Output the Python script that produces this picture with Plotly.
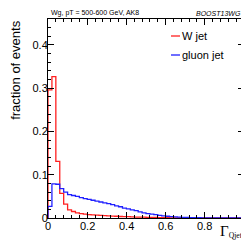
import numpy as np
import plotly.graph_objects as go

bin_edges = [round(0.02 * i, 2) for i in range(51)]

w_jet = [0.296, 0.327, 0.131, 0.057, 0.032, 0.019, 0.015, 0.012, 0.010, 0.009,
         0.008, 0.007, 0.0065, 0.006, 0.0055, 0.005, 0.0045, 0.004, 0.0035, 0.003,
         0.003, 0.0025, 0.0022, 0.002, 0.0018, 0.0015, 0.0013, 0.0011, 0.001, 0.0008,
         0.0007, 0.0005, 0.0004, 0.0003, 0.0002, 0.0001, 0, 0, 0, 0,
         0, 0, 0, 0, 0, 0, 0, 0, 0, 0]

gluon_jet = [0.027, 0.079, 0.078, 0.068, 0.060, 0.054, 0.052, 0.050, 0.047, 0.045,
             0.043, 0.041, 0.039, 0.037, 0.035, 0.033, 0.031, 0.028, 0.026, 0.023,
             0.021, 0.019, 0.017, 0.014, 0.012, 0.010, 0.009, 0.008, 0.006, 0.005,
             0.004, 0.003, 0.0025, 0.002, 0.0015, 0.0012, 0.001, 0.0008, 0.0006, 0.0005,
             0.0004, 0.0003, 0.0002, 0.0002, 0.0001, 0, 0, 0, 0, 0]

series = [("W jet", w_jet, "#ff2020"), ("gluon jet", gluon_jet, "#2020ff")]

x_ticks = [0, 0.2, 0.4, 0.6, 0.8, 1]
x_ticklabels = ["0", "0.2", "0.4", "0.6", "0.8", "1"]
y_ticks = [0, 0.1, 0.2, 0.3, 0.4]
y_ticklabels = ["0", "0.1", "0.2", "0.3", "0.4"]

FONT = "Liberation Sans, Arial, Helvetica, sans-serif"

fig = go.Figure()
for name, vals, col in series:
    xs = [bin_edges[0]] + list(bin_edges)
    ys = [0] + list(vals) + [vals[-1]]
    fig.add_trace(go.Scatter(x=xs, y=ys, mode="lines", line=dict(shape="hv", color=col, width=1.3),
                             name=name, showlegend=False, hoverinfo="skip"))

axis_common = dict(
    showline=True, linecolor="black", linewidth=1, mirror="ticks",
    ticks="inside", ticklen=6, tickwidth=1, tickcolor="black",
    showgrid=False, zeroline=False,
    tickfont=dict(family=FONT, size=11, color="black"),
)

# x tick labels are placed through the x scale as annotations (closer to the axis, ROOT style)
fig.update_xaxes(range=[0, 1], tickvals=x_ticks, showticklabels=False,
                 minor=dict(ticks="inside", ticklen=3, dtick=0.04, tick0=0, tickcolor="black", showgrid=False),
                 **axis_common)
fig.update_yaxes(range=[0, 0.46], tickvals=y_ticks, ticktext=y_ticklabels, ticklabelstandoff=-3,
                 minor=dict(ticks="inside", ticklen=3, dtick=0.02, tick0=0, tickcolor="black", showgrid=False),
                 **axis_common)

annotations = [
    dict(text=lab, xref="x", yref="paper", x=v, y=0.0, xanchor="center", yanchor="top",
         showarrow=False, font=dict(family=FONT, size=11, color="black"))
    for v, lab in zip(x_ticks, x_ticklabels)
]
annotations += [
    dict(text="fraction of events", textangle=-90, xref="paper", yref="paper",
         x=-0.215, y=1.0, xanchor="left", yanchor="top", showarrow=False,
         font=dict(family=FONT, size=13, color="black")),
    dict(text="<span style='font-size:15px'>Γ</span><sub>Qjet</sub>", xref="paper", yref="paper",
         x=1.005, y=-0.12, xanchor="right", yanchor="bottom", showarrow=False,
         font=dict(family="Liberation Serif, Times New Roman, serif", size=11, color="black")),
    dict(text="Wg, pT = 500-600 GeV, AK8", xref="paper", yref="paper",
         x=0.003, y=1.0, xanchor="left", yanchor="bottom", showarrow=False,
         font=dict(family=FONT, size=7, color="black")),
    dict(text="<i>BOOST13WG</i>", xref="paper", yref="paper",
         x=0.995, y=1.0, xanchor="right", yanchor="bottom", showarrow=False,
         font=dict(family=FONT, size=7, color="black")),
]

shapes = []
legend_y = [28, 47]
for (name, vals, col), py in zip(series, legend_y):
    yp = (210 - py) / 199.0
    shapes.append(dict(type="line", xref="paper", yref="paper",
                       x0=(163 - 40) / 196.0, x1=(172 - 40) / 196.0, y0=yp, y1=yp,
                       line=dict(color=col, width=1.3)))
    annotations.append(dict(text=name, xref="paper", yref="paper",
                            x=(172 - 40) / 196.0, y=yp, xanchor="left", yanchor="middle",
                            showarrow=False, font=dict(family=FONT, size=11, color="black")))

fig.update_layout(
    width=249, height=242,
    margin=dict(l=40, r=13, t=11, b=32),
    paper_bgcolor="white", plot_bgcolor="white",
    showlegend=False,
    annotations=annotations, shapes=shapes,
)

fig.write_html("out.html")
